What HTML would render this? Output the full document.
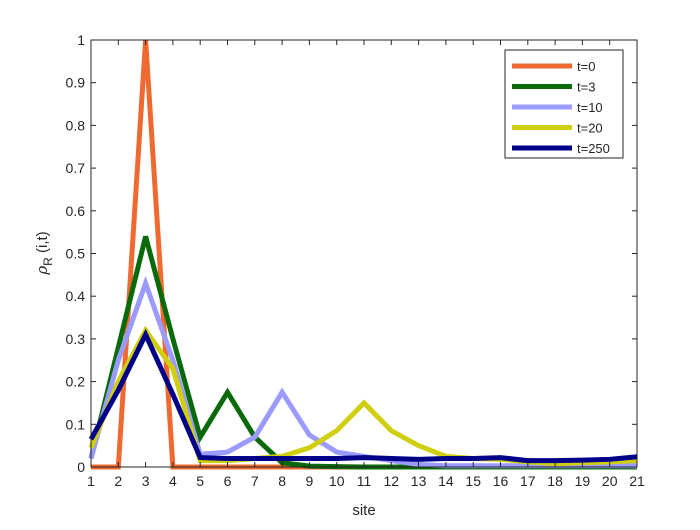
<!DOCTYPE html>
<html><head><meta charset="utf-8"><style>
body{margin:0;background:#fff;font-family:"Liberation Sans",sans-serif}
svg text{font-family:"Liberation Sans",sans-serif;fill:#262626}
</style></head><body>
<svg id="chart" width="700" height="525" viewBox="0 0 700 525" xmlns="http://www.w3.org/2000/svg">
<rect x="0" y="0" width="700" height="525" fill="#fff"/>
<g id="marks"></g>
<g id="axes"></g>
<text x="364" y="515" font-size="15" text-anchor="middle">site</text>
<text transform="translate(47,253) rotate(-90)" font-size="15" text-anchor="middle"><tspan font-family="DejaVu Serif" font-style="italic">ρ</tspan><tspan dy="5" font-size="12">R</tspan><tspan dy="-5"> (i,t)</tspan></text>
<g id="legend"></g>
</svg>
<script>
const sites=[1,2,3,4,5,6,7,8,9,10,11,12,13,14,15,16,17,18,19,20,21];
const yTicks=[0,0.1,0.2,0.3,0.4,0.5,0.6,0.7,0.8,0.9,1];
const yTickLabels=["0","0.1","0.2","0.3","0.4","0.5","0.6","0.7","0.8","0.9","1"];
const seriesNames=["t=0","t=3","t=10","t=20","t=250"];
const seriesColors=["#ee6a30","#0a6a0a","#9a9aff","#cfcf10","#000088"];
const s_t0=[0,0,1,0,0,0,0,0,0,0,0,0,0,0,0,0,0,0,0,0,0];
const s_t3=[0.02,0.28,0.54,0.3,0.07,0.175,0.07,0.01,0.002,0.001,0,0,0,0,0,0,0,0,0,0,0];
const s_t10=[0.02,0.25,0.43,0.25,0.03,0.035,0.07,0.175,0.075,0.035,0.025,0.015,0.006,0.003,0.003,0.003,0.003,0.003,0.003,0.003,0.003];
const s_t20=[0.045,0.2,0.32,0.23,0.015,0.015,0.02,0.025,0.045,0.085,0.15,0.085,0.05,0.025,0.02,0.018,0.012,0.008,0.01,0.012,0.015];
const s_t250=[0.065,0.18,0.31,0.17,0.022,0.02,0.02,0.02,0.02,0.02,0.022,0.02,0.018,0.02,0.02,0.022,0.015,0.015,0.016,0.018,0.024];
const series=[s_t0,s_t3,s_t10,s_t20,s_t250];
const L=91,R=637,T=40,B=467;
const xs=v=>L+(v-1)/20*(R-L);
const ys=v=>B-v*(B-T);
const NS="http://www.w3.org/2000/svg";
function mk(tag,attrs,parent){const e=document.createElementNS(NS,tag);for(const k in attrs)e.setAttribute(k,attrs[k]);parent.appendChild(e);return e;}
const marks=document.getElementById('marks'),axes=document.getElementById('axes'),leg=document.getElementById('legend');
series.forEach((s,i)=>{
  const p=mk('polyline',{points:s.map((v,j)=>xs(sites[j])+','+ys(v)).join(' '),fill:'none',stroke:seriesColors[i],'stroke-width':5,'stroke-linejoin':'miter'},marks);
  
  
});
const box=mk('rect',{x:L,y:T,width:R-L,height:B-T,fill:'none',stroke:'#262626','stroke-width':1},axes);


sites.forEach(v=>{
  mk('line',{x1:xs(v),x2:xs(v),y1:B,y2:B-5,stroke:'#262626'},axes);
  mk('line',{x1:xs(v),x2:xs(v),y1:T,y2:T+5,stroke:'#262626'},axes);
  const t=mk('text',{x:xs(v),y:B+19,'font-size':14,'text-anchor':'middle'},axes);t.textContent=v;
  
  
});
yTicks.forEach((v,i)=>{
  mk('line',{x1:L,x2:L+5,y1:ys(v),y2:ys(v),stroke:'#262626'},axes);
  mk('line',{x1:R,x2:R-5,y1:ys(v),y2:ys(v),stroke:'#262626'},axes);
  const t=mk('text',{x:L-6,y:ys(v)+5,'font-size':14,'text-anchor':'end'},axes);t.textContent=yTickLabels[i];
  
  
});
const lb=mk('rect',{x:505,y:50,width:118,height:108,fill:'#fff',stroke:'#262626','stroke-width':1},leg);


seriesNames.forEach((n,i)=>{
  const y=66+i*20.5;
  mk('line',{x1:512,x2:572,y1:y,y2:y,stroke:seriesColors[i],'stroke-width':5},leg);
  const t=mk('text',{x:577,y:y+5,'font-size':13},leg);t.textContent=n;
  
  
});
</script>
</body></html>
